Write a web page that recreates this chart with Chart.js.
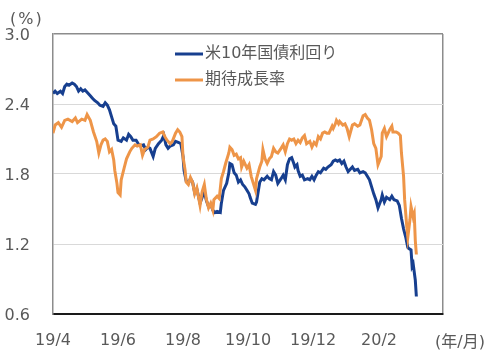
<!DOCTYPE html>
<html>
<head>
<meta charset="utf-8">
<script src="https://cdn.jsdelivr.net/npm/chart.js@4.4.1/dist/chart.umd.min.js"></script>
<style>
html,body{margin:0;padding:0;background:#fff;}
#wrap{width:500px;height:362px;position:relative;}
</style>
</head>
<body>
<div id="wrap"><canvas id="c" width="500" height="362"></canvas></div>
<script>
// days since 2019-04-01
const seriesNames = ['米10年国債利回り', '期待成長率'];
const tickDays = [0, 61, 122, 183, 244, 306, 366];
const tickLabels = ['19/4', '19/6', '19/8', '19/10', '19/12', '20/2', ''];
const yTicks = [0.6, 1.2, 1.8, 2.4, 3.0];

const yieldDays = [0,2,4,7,9,11,13,15,18,20,22,24,26,28,30,32,35,37,39,42,44,47,49,51,53,55,57,59,61,64,66,69,71,73,75,78,80,82,85,87,89,91,94,96,99,102,104,106,108,110,113,115,118,120,122,123,125,127,129,131,133,135,138,140,142,144,146,148,150,152,154,157,158,160,163,165,166,168,170,172,174,176,178,180,182,184,185,187,190,191,194,196,198,201,203,205,207,209,211,214,216,218,220,222,224,226,227,229,230,232,234,236,239,241,243,245,247,249,251,254,256,258,261,263,265,267,269,271,273,275,277,279,281,283,286,288,291,293,295,297,299,301,303,305,308,309,311,313,316,318,320,323,325,327,329,331,333,334,336,337,338,340,341];
const yieldVals = [2.49,2.51,2.49,2.51,2.49,2.55,2.57,2.56,2.58,2.57,2.55,2.51,2.53,2.51,2.52,2.50,2.47,2.45,2.43,2.41,2.39,2.38,2.41,2.39,2.35,2.29,2.23,2.21,2.09,2.08,2.11,2.09,2.14,2.12,2.09,2.09,2.06,2.04,2.05,2.01,2.03,2.02,1.95,2.02,2.06,2.09,2.13,2.05,2.02,2.04,2.05,2.08,2.07,2.06,1.95,1.83,1.74,1.72,1.76,1.73,1.64,1.67,1.55,1.60,1.65,1.57,1.52,1.54,1.49,1.47,1.48,1.47,1.55,1.66,1.72,1.81,1.89,1.88,1.81,1.79,1.73,1.75,1.71,1.69,1.66,1.63,1.60,1.55,1.54,1.56,1.73,1.76,1.75,1.78,1.76,1.75,1.82,1.79,1.72,1.76,1.79,1.75,1.88,1.93,1.94,1.89,1.86,1.88,1.83,1.78,1.79,1.75,1.76,1.75,1.78,1.75,1.79,1.82,1.81,1.85,1.84,1.86,1.88,1.91,1.92,1.91,1.92,1.89,1.91,1.86,1.82,1.84,1.86,1.83,1.84,1.81,1.82,1.81,1.78,1.75,1.69,1.63,1.58,1.51,1.58,1.62,1.56,1.60,1.58,1.61,1.58,1.57,1.53,1.42,1.33,1.26,1.17,1.16,1.15,1.01,1.03,0.89,0.75];

const growthDays = [0,2,5,8,11,14,18,21,23,27,30,32,35,38,41,43,45,47,49,51,53,55,57,58,60,61,63,64,67,69,72,74,77,79,82,84,86,89,91,94,97,100,103,105,107,110,112,115,117,119,121,122,124,125,127,129,131,133,135,138,140,142,144,146,148,150,151,154,156,158,160,162,165,166,168,170,172,174,176,177,179,182,184,186,188,190,191,194,196,197,199,201,203,205,207,209,211,214,216,218,220,222,224,226,228,230,232,234,236,238,241,243,245,247,249,251,253,255,257,259,262,263,265,266,268,269,272,274,276,278,281,283,286,288,291,293,295,297,299,301,303,305,308,309,311,313,316,318,319,322,324,326,327,329,330,332,333,335,336,338,339,340,341];
const growthVals = [2.15,2.22,2.24,2.20,2.26,2.27,2.25,2.28,2.24,2.27,2.26,2.31,2.26,2.16,2.08,1.98,2.05,2.09,2.10,2.08,1.99,2.01,1.92,1.83,1.72,1.64,1.62,1.75,1.86,1.93,1.99,2.02,2.05,2.04,2.05,1.96,2.01,2.03,2.09,2.10,2.12,2.15,2.16,2.12,2.09,2.06,2.08,2.15,2.18,2.16,2.12,1.95,1.83,1.73,1.71,1.77,1.73,1.63,1.68,1.53,1.65,1.71,1.58,1.51,1.55,1.49,1.58,1.61,1.59,1.76,1.82,1.89,1.98,2.03,2.01,1.96,1.97,1.93,1.94,1.86,1.91,1.85,1.88,1.78,1.72,1.66,1.76,1.86,1.91,2.01,1.93,1.89,1.93,1.95,2.02,1.99,1.98,2.02,2.05,1.99,2.06,2.10,2.09,2.10,2.06,2.09,2.07,2.11,2.13,2.06,2.08,2.03,2.07,2.05,2.12,2.10,2.15,2.16,2.15,2.15,2.21,2.19,2.23,2.26,2.23,2.25,2.22,2.23,2.19,2.12,2.22,2.23,2.21,2.22,2.30,2.31,2.28,2.26,2.18,2.06,2.02,1.88,1.95,2.15,2.19,2.12,2.18,2.21,2.16,2.16,2.15,2.13,1.98,1.78,1.58,1.35,1.26,1.41,1.52,1.43,1.46,1.23,1.11];

const BLUE = '#173f8f';
const ORANGE = '#ee9548';
const TXT = '#595959';
const FONT = '"DejaVu Sans", "Noto Sans CJK JP", sans-serif';

function pts(d, v) { return d.map((x, i) => ({x: x, y: v[i]})); }

const extras = {
  id: 'extras',
  afterDraw(chart) {
    const ctx = chart.ctx;
    ctx.save();
    ctx.font = '16px ' + FONT;
    ctx.fillStyle = TXT;
    ctx.textBaseline = 'middle';
    ctx.textAlign = 'left';
    ctx.letterSpacing = '2px';
    ctx.fillText('(%)', 10, 20);
    ctx.letterSpacing = '0px';
    ctx.fillText('(年/月)', 435, 343);
    // legend
    const items = chart.data.datasets;
    const ys = [54, 80];
    items.forEach((ds, i) => {
      ctx.strokeStyle = ds.borderColor;
      ctx.lineWidth = 3;
      ctx.beginPath();
      ctx.moveTo(175, ys[i]);
      ctx.lineTo(203, ys[i]);
      ctx.stroke();
      ctx.fillStyle = TXT;
      ctx.fillText(ds.label, 205, ys[i]);
    });
    ctx.restore();
  }
};

new Chart(document.getElementById('c'), {
  type: 'line',
  data: {
    datasets: [
      {label: seriesNames[0], data: pts(yieldDays, yieldVals), borderColor: BLUE, backgroundColor: BLUE, borderWidth: 3, pointRadius: 0, tension: 0, order: 1},
      {label: seriesNames[1], data: pts(growthDays, growthVals), borderColor: ORANGE, backgroundColor: ORANGE, borderWidth: 3, pointRadius: 0, tension: 0, order: 0}
    ]
  },
  options: {
    responsive: false,
    animation: false,
    devicePixelRatio: 1,
    layout: {padding: {top: 34, right: 57, left: 0, bottom: 0}},
    plugins: {legend: {display: false}, tooltip: {enabled: false}},
    scales: {
      x: {
        type: 'linear', min: 0, max: 366,
        afterBuildTicks(s) { s.ticks = tickDays.map(v => ({value: v})); },
        afterFit(s) { s.height = 48; },
        ticks: {
          autoSkip: false, maxRotation: 0, padding: 17,
          color: TXT, font: {family: FONT, size: 16},
          callback(v) { const i = tickDays.indexOf(v); return i >= 0 ? tickLabels[i] : ''; }
        },
        grid: {drawTicks: false, color(c) { return c.tick && c.tick.value === 366 ? '#8c8c8c' : 'rgba(0,0,0,0)'; }, lineWidth: 1.5},
        border: {display: true, color: '#1a1a1a', width: 2}
      },
      y: {
        min: 0.6, max: 3.0,
        afterBuildTicks(s) { s.ticks = yTicks.map(v => ({value: v})); },
        afterFit(s) { s.width = 53; },
        ticks: {padding: 23, labelOffset: 2, color: TXT, font: {family: FONT, size: 16}, callback(v) { return Number(v).toFixed(1); }},
        grid: {drawTicks: false, color(c) { return c.tick && c.tick.value === 3.0 ? '#8c8c8c' : '#d9d9d9'; }, lineWidth(c) { return c.tick && c.tick.value === 3.0 ? 1.5 : 1; }},
        border: {display: true, color: '#8c8c8c', width: 1.5}
      }
    }
  },
  plugins: [extras]
});
</script>
</body>
</html>
